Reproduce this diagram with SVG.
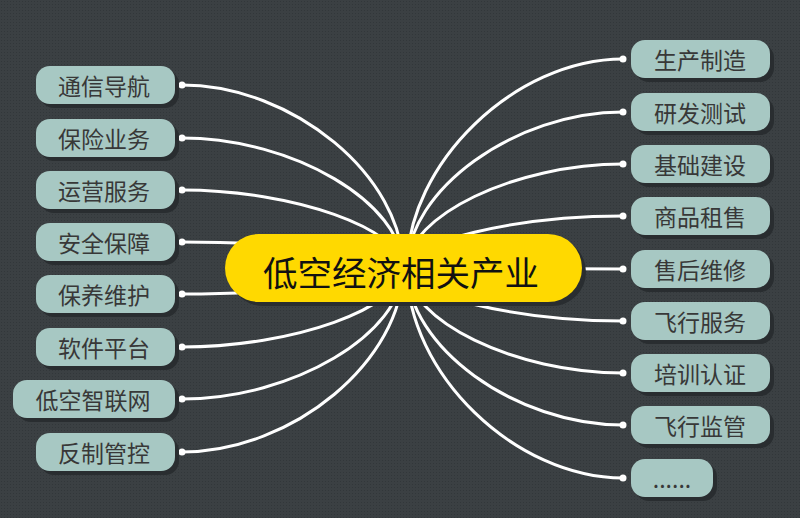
<svg xmlns="http://www.w3.org/2000/svg" width="800" height="518" viewBox="0 0 800 518">
<defs>
<pattern id="dots" width="3" height="3" patternUnits="userSpaceOnUse">
<rect width="3" height="3" fill="#3b4043"/>
<rect x="1" y="1" width="1" height="1" fill="#32373a"/>
</pattern>
<style>
.n rect.s{fill:#292d30}
.n rect.b{fill:#a7c8c3}
.n text{font-family:"Noto Sans CJK SC","Noto Sans",sans-serif;font-size:23px;fill:#383838;text-anchor:middle;dominant-baseline:central}
.c path{fill:none;stroke:#fff;stroke-width:3}
.c circle{fill:#fff}
</style>
</defs>
<rect width="800" height="518" fill="url(#dots)"/>
<g id="connectors" class="c">
<path d="M403,268 C403,176.5 293,85 182,85"/>
<path d="M403,268 C403,203 293,138 182,138"/>
<path d="M403,268 C403,229 293,190 182,190"/>
<path d="M403,268 C403,255 293,242 182,242"/>
<path d="M403,268 C403,281 293,294 182,294"/>
<path d="M403,268 C403,307.5 293,347 182,347"/>
<path d="M403,268 C403,333.5 293,399 182,399"/>
<path d="M403,268 C403,360 293,452 182,452"/>
<path d="M407,268 C407,163.5 515,59 623,59"/>
<path d="M407,268 C407,190 515,112 623,112"/>
<path d="M407,268 C407,216 515,164 623,164"/>
<path d="M407,268 C407,242 515,216 623,216"/>
<path d="M407,268 C407,268.5 515,269 623,269"/>
<path d="M407,268 C407,294.5 515,321 623,321"/>
<path d="M407,268 C407,320.5 515,373 623,373"/>
<path d="M407,268 C407,346.5 515,425 623,425"/>
<path d="M407,268 C407,373 515,478 623,478"/>
<circle cx="182" cy="85" r="3.5"/>
<circle cx="182" cy="138" r="3.5"/>
<circle cx="182" cy="190" r="3.5"/>
<circle cx="182" cy="242" r="3.5"/>
<circle cx="182" cy="294" r="3.5"/>
<circle cx="182" cy="347" r="3.5"/>
<circle cx="182" cy="399" r="3.5"/>
<circle cx="182" cy="452" r="3.5"/>
<circle cx="623" cy="59" r="3.5"/>
<circle cx="623" cy="112" r="3.5"/>
<circle cx="623" cy="164" r="3.5"/>
<circle cx="623" cy="216" r="3.5"/>
<circle cx="623" cy="269" r="3.5"/>
<circle cx="623" cy="321" r="3.5"/>
<circle cx="623" cy="373" r="3.5"/>
<circle cx="623" cy="425" r="3.5"/>
<circle cx="623" cy="478" r="3.5"/>
</g>
<g id="center">
<rect x="229" y="238" width="357" height="68" rx="34" fill="#292d30"/>
<rect x="225" y="234" width="357" height="68" rx="34" fill="#ffd900"/>
<text x="401" y="271" font-family="Noto Sans CJK SC, Noto Sans, sans-serif" font-size="34.5" fill="#111" text-anchor="middle" dominant-baseline="central">低空经济相关产业</text>
</g>
<g id="l1" class="n"><rect class="s" x="40" y="70" width="139" height="38" rx="14"/><rect class="b" x="36" y="66" width="139" height="38" rx="14"/><text x="104" y="85">通信导航</text></g>
<g id="l2" class="n"><rect class="s" x="40" y="123" width="139" height="38" rx="14"/><rect class="b" x="36" y="119" width="139" height="38" rx="14"/><text x="104" y="138">保险业务</text></g>
<g id="l3" class="n"><rect class="s" x="40" y="175" width="139" height="38" rx="14"/><rect class="b" x="36" y="171" width="139" height="38" rx="14"/><text x="104" y="190">运营服务</text></g>
<g id="l4" class="n"><rect class="s" x="40" y="227" width="139" height="38" rx="14"/><rect class="b" x="36" y="223" width="139" height="38" rx="14"/><text x="104" y="242">安全保障</text></g>
<g id="l5" class="n"><rect class="s" x="40" y="279" width="139" height="38" rx="14"/><rect class="b" x="36" y="275" width="139" height="38" rx="14"/><text x="104" y="294">保养维护</text></g>
<g id="l6" class="n"><rect class="s" x="40" y="332" width="139" height="38" rx="14"/><rect class="b" x="36" y="328" width="139" height="38" rx="14"/><text x="104" y="347">软件平台</text></g>
<g id="l7" class="n"><rect class="s" x="17" y="384" width="162" height="38" rx="14"/><rect class="b" x="13" y="380" width="162" height="38" rx="14"/><text x="93" y="399">低空智联网</text></g>
<g id="l8" class="n"><rect class="s" x="40" y="437" width="139" height="38" rx="14"/><rect class="b" x="36" y="433" width="139" height="38" rx="14"/><text x="104" y="452">反制管控</text></g>
<g id="r1" class="n"><rect class="s" x="635" y="44" width="139" height="38" rx="14"/><rect class="b" x="631" y="40" width="139" height="38" rx="14"/><text x="700" y="59">生产制造</text></g>
<g id="r2" class="n"><rect class="s" x="635" y="97" width="139" height="38" rx="14"/><rect class="b" x="631" y="93" width="139" height="38" rx="14"/><text x="700" y="112">研发测试</text></g>
<g id="r3" class="n"><rect class="s" x="635" y="149" width="139" height="38" rx="14"/><rect class="b" x="631" y="145" width="139" height="38" rx="14"/><text x="700" y="164">基础建设</text></g>
<g id="r4" class="n"><rect class="s" x="635" y="201" width="139" height="38" rx="14"/><rect class="b" x="631" y="197" width="139" height="38" rx="14"/><text x="700" y="216">商品租售</text></g>
<g id="r5" class="n"><rect class="s" x="635" y="254" width="139" height="38" rx="14"/><rect class="b" x="631" y="250" width="139" height="38" rx="14"/><text x="700" y="269">售后维修</text></g>
<g id="r6" class="n"><rect class="s" x="635" y="306" width="139" height="38" rx="14"/><rect class="b" x="631" y="302" width="139" height="38" rx="14"/><text x="700" y="321">飞行服务</text></g>
<g id="r7" class="n"><rect class="s" x="635" y="358" width="139" height="38" rx="14"/><rect class="b" x="631" y="354" width="139" height="38" rx="14"/><text x="700" y="373">培训认证</text></g>
<g id="r8" class="n"><rect class="s" x="635" y="410" width="139" height="38" rx="14"/><rect class="b" x="631" y="406" width="139" height="38" rx="14"/><text x="700" y="425">飞行监管</text></g>
<g id="r9" class="n"><rect class="s" x="635" y="463" width="82" height="38" rx="14"/><rect class="b" x="631" y="459" width="82" height="38" rx="14"/><text x="672" y="478">......</text></g>
</svg>
